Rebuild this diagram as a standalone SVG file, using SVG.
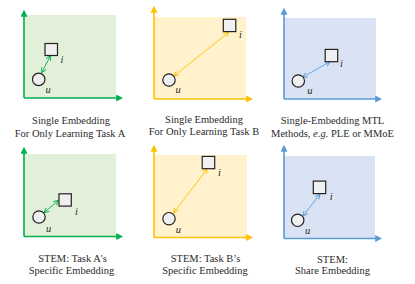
<svg xmlns="http://www.w3.org/2000/svg" width="415" height="284" viewBox="0 0 415 284">
<style>
.cap{font-family:"Liberation Serif","Times New Roman",serif;font-size:10.5px;fill:#2b2b2b;text-anchor:middle}
.lbl{font-family:"Liberation Serif","Times New Roman",serif;font-size:10.5px;font-style:italic;fill:#2b2b2b}
.node{fill:#f0f0f0;stroke:#222;stroke-width:1.2}
.axg{stroke:#00b050;stroke-width:1.6;fill:none}
.axy{stroke:#ffc000;stroke-width:1.6;fill:none}
.axb{stroke:#5b9bd5;stroke-width:1.6;fill:none}
.lg{stroke:#00b050;stroke-width:0.9;fill:none}
.ly{stroke:#ffc000;stroke-width:0.9;fill:none}
.lb{stroke:#5b9bd5;stroke-width:0.9;fill:none}
</style>
<defs>
<marker id="hg" viewBox="0 0 10 10" refX="4" refY="5" markerWidth="7" markerHeight="7" markerUnits="userSpaceOnUse" orient="auto"><path d="M0,0 L10,5 L0,10 z" fill="#00b050"/></marker>
<marker id="hy" viewBox="0 0 10 10" refX="4" refY="5" markerWidth="7" markerHeight="7" markerUnits="userSpaceOnUse" orient="auto"><path d="M0,0 L10,5 L0,10 z" fill="#ffc000"/></marker>
<marker id="hb" viewBox="0 0 10 10" refX="4" refY="5" markerWidth="7" markerHeight="7" markerUnits="userSpaceOnUse" orient="auto"><path d="M0,0 L10,5 L0,10 z" fill="#5b9bd5"/></marker>
<marker id="vg" viewBox="0 0 10 10" refX="9" refY="5" markerWidth="6" markerHeight="6" markerUnits="userSpaceOnUse" orient="auto-start-reverse"><path d="M1,1 L9,5 L1,9" fill="none" stroke="#00b050" stroke-width="1.5"/></marker>
<marker id="vy" viewBox="0 0 10 10" refX="9" refY="5" markerWidth="6" markerHeight="6" markerUnits="userSpaceOnUse" orient="auto-start-reverse"><path d="M1,1 L9,5 L1,9" fill="none" stroke="#ffc000" stroke-width="1.5"/></marker>
<marker id="vb" viewBox="0 0 10 10" refX="9" refY="5" markerWidth="6" markerHeight="6" markerUnits="userSpaceOnUse" orient="auto-start-reverse"><path d="M1,1 L9,5 L1,9" fill="none" stroke="#5b9bd5" stroke-width="1.5"/></marker>
</defs>

<!-- backgrounds -->
<g id="backgrounds">
<rect x="24" y="15" width="92" height="83" fill="#e2f0d9"/>
<rect x="154" y="17" width="92" height="82" fill="#fff2cc"/>
<rect x="284" y="18" width="92" height="81" fill="#dae3f3"/>
<rect x="24" y="154" width="92" height="82" fill="#e2f0d9"/>
<rect x="154" y="155" width="93" height="83" fill="#fff2cc"/>
<rect x="284" y="156" width="91" height="83" fill="#dae3f3"/>
</g>

<!-- axes -->
<g id="axes">
<path class="axg" d="M24,98 V14" marker-end="url(#hg)"/>
<path class="axg" d="M24,98 H119" marker-end="url(#hg)"/>
<path class="axy" d="M154,99 V10" marker-end="url(#hy)"/>
<path class="axy" d="M154,99 H249" marker-end="url(#hy)"/>
<path class="axb" d="M284,99 V12" marker-end="url(#hb)"/>
<path class="axb" d="M284,99 H378" marker-end="url(#hb)"/>
<path class="axg" d="M24,236.5 V151" marker-end="url(#hg)"/>
<path class="axg" d="M24,236.5 H119" marker-end="url(#hg)"/>
<path class="axy" d="M154,237.5 V149" marker-end="url(#hy)"/>
<path class="axy" d="M154,237.5 H249" marker-end="url(#hy)"/>
<path class="axb" d="M284,238.5 V149" marker-end="url(#hb)"/>
<path class="axb" d="M284,238.5 H378" marker-end="url(#hb)"/>
</g>

<!-- connectors -->
<g id="connectors">
<path class="lg" d="M41.7,72.7 L50.7,55.5" marker-start="url(#vg)" marker-end="url(#vg)"/>
<path class="ly" d="M174,76 L228.7,32.3" marker-start="url(#vy)" marker-end="url(#vy)"/>
<path class="lb" d="M302.5,77.3 L330,61.7" marker-start="url(#vb)" marker-end="url(#vb)"/>
<path class="lg" d="M44,212.7 L58.5,200.3" marker-start="url(#vg)" marker-end="url(#vg)"/>
<path class="ly" d="M173.5,213 L207.3,168.7" marker-start="url(#vy)" marker-end="url(#vy)"/>
<path class="lb" d="M303,216 L320,194" marker-start="url(#vb)" marker-end="url(#vb)"/>
</g>

<!-- panel 1 -->
<g id="panel1">
<rect class="node" x="45" y="43.5" width="12.5" height="12"/>
<circle class="node" cx="38.7" cy="79.4" r="6.2"/>
<text class="lbl" x="60.5" y="62.5">i</text>
<text class="lbl" x="45.5" y="92.5">u</text>
<text class="cap" x="71" y="123.5">Single Embedding</text>
<text class="cap" x="70" y="136.5">For Only Learning Task A</text>
</g>

<!-- panel 2 -->
<g id="panel2">
<rect class="node" x="223.3" y="19.3" width="12.5" height="12.3"/>
<circle class="node" cx="169" cy="80" r="6.2"/>
<text class="lbl" x="239" y="38">i</text>
<text class="lbl" x="175.5" y="92.5">u</text>
<text class="cap" x="204" y="122.5">Single Embedding</text>
<text class="cap" x="204" y="135">For Only Learning Task B</text>
</g>

<!-- panel 3 -->
<g id="panel3">
<rect class="node" x="325.2" y="49.4" width="12.5" height="12.3"/>
<circle class="node" cx="298.3" cy="81" r="6.2"/>
<text class="lbl" x="340" y="66.5">i</text>
<text class="lbl" x="307.3" y="94">u</text>
<text class="cap" x="332.5" y="124">Single-Embedding MTL</text>
<text class="cap" x="332.5" y="137">Methods, <tspan font-style="italic">e.g.</tspan> PLE or MMoE</text>
</g>

<!-- panel 4 -->
<g id="panel4">
<rect class="node" x="59" y="193.8" width="12.3" height="12.3"/>
<circle class="node" cx="39" cy="217" r="6.2"/>
<text class="lbl" x="75" y="214.7">i</text>
<text class="lbl" x="46" y="232">u</text>
<text class="cap" x="72.5" y="261.5">STEM: Task A's</text>
<text class="cap" x="71.5" y="274">Specific Embedding</text>
</g>

<!-- panel 5 -->
<g id="panel5">
<rect class="node" x="202.2" y="156.4" width="12.5" height="12.3"/>
<circle class="node" cx="169" cy="218.7" r="6.2"/>
<text class="lbl" x="218" y="176.3">i</text>
<text class="lbl" x="175.7" y="232.7">u</text>
<text class="cap" x="205.5" y="261.5">STEM: Task B’s</text>
<text class="cap" x="205" y="274">Specific Embedding</text>
</g>

<!-- panel 6 -->
<g id="panel6">
<rect class="node" x="313.3" y="181.1" width="12.4" height="12.5"/>
<circle class="node" cx="297.7" cy="220.3" r="6.2"/>
<text class="lbl" x="329.8" y="199.7">i</text>
<text class="lbl" x="305" y="233.7">u</text>
<text class="cap" x="332.5" y="262.5">STEM:</text>
<text class="cap" x="332.5" y="274">Share Embedding</text>
</g>
</svg>
